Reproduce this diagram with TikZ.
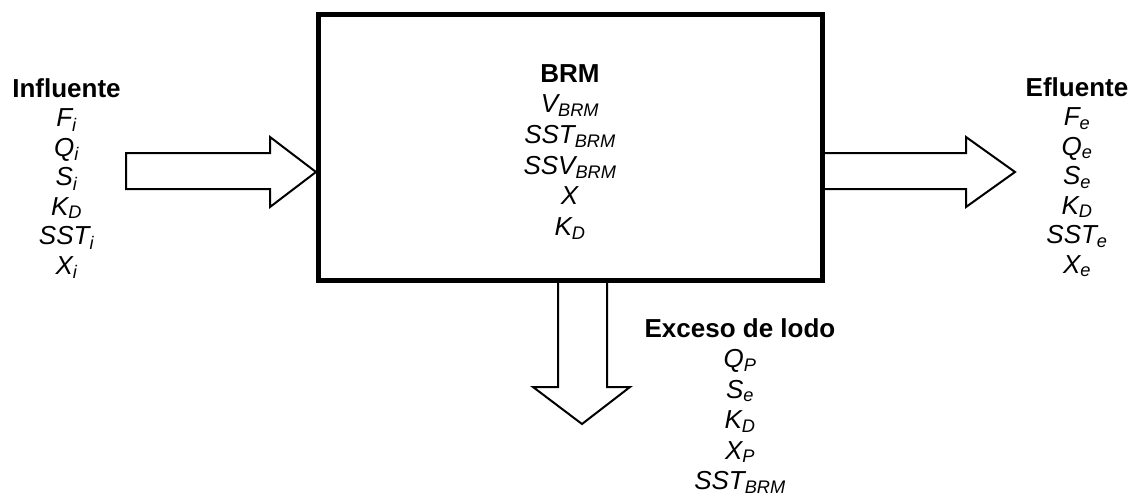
\documentclass[tikz,border=0pt]{standalone}
\usepackage{fontspec}
\setmainfont{Liberation Sans}
\usepackage{tikz}
\usetikzlibrary{positioning}
\newcommand{\vr}[2]{\textit{#1\textsubscript{#2}}}
\tikzset{%
  reactor/.style={draw=black,line width=5pt,minimum width=504pt,minimum height=265pt,inner sep=0pt},
  flecha/.style={draw=black,fill=white,line width=2pt,line join=miter},
  lista/.style={align=center,inner sep=0pt,anchor=north,font=\fontsize{26}{#1}\selectfont},
  lista/.default=29.5
}

\begin{document}
\begin{tikzpicture}[x=1pt,y=-1pt]
    \useasboundingbox (0,0) rectangle (1130,495);
    % flechas de entrada, salida y purga
    \draw[flecha] (126,153) -- (270,153) -- (270,137) -- (316,172) -- (270,207) -- (270,189) -- (126,189) -- cycle;
    \draw[flecha] (820,153) -- (966,153) -- (966,137) -- (1015,172) -- (966,207) -- (966,189) -- (820,189);
    \draw[flecha] (558,280) -- (558,387) -- (533,387) -- (582,424) -- (630,387) -- (607,387) -- (607,280);
    % reactor
    \node[reactor] (brm) at (570,147.5) {};
    \node[lista=30.7] (brmvars) at (570,64) {\textbf{BRM}\\\vr{V}{BRM}\\\vr{SST}{BRM}\\\vr{SSV}{BRM}\\\textit{X}\\\vr{K}{D}};
    \node[lista] (influente) at (66.5,78) {\textbf{Influente}\\\vr{F}{i}\\\vr{Q}{i}\\\vr{S}{i}\\\vr{K}{D}\\\vr{SST}{i}\\\vr{X}{i}};
    \node[lista] (efluente) at (1077,77) {\textbf{Efluente}\\\vr{F}{e}\\\vr{Q}{e}\\\vr{S}{e}\\\vr{K}{D}\\\vr{SST}{e}\\\vr{X}{e}};
    \node[lista=30.5] (lodo) at (740,318) {\textbf{Exceso de lodo}\\\vr{Q}{P}\\\vr{S}{e}\\\vr{K}{D}\\\vr{X}{P}\\\vr{SST}{BRM}};
\end{tikzpicture}
\end{document}
